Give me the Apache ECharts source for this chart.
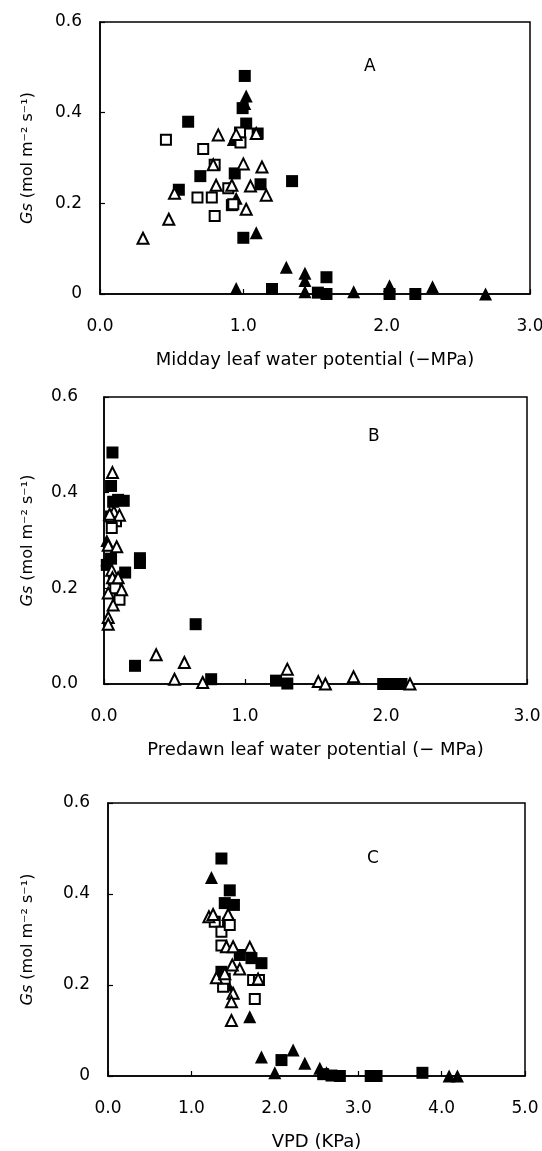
<!DOCTYPE html>
<html>
<head>
<meta charset="utf-8">
<script src="https://cdn.jsdelivr.net/npm/echarts@6/dist/echarts.min.js"></script>
<style>
html,body{margin:0;padding:0;background:#fff;}
#chart{width:542px;height:1151px;}
</style>
</head>
<body>
<div id="chart"></div>
<script>
// ---------- Data ----------
// Panel A: Midday leaf water potential (-MPa) vs Gs
var aFilledSquare = [[1.01,0.481],[0.995,0.41],[0.615,0.38],[1.02,0.376],[1.10,0.354],[0.70,0.26],[0.94,0.266],[0.55,0.23],[1.12,0.242],[1.34,0.249],[0.92,0.196],[1.00,0.124],[1.20,0.011],[1.58,0.037],[1.52,0.003],[1.58,0.0],[2.02,0.0],[2.20,0.0]];
var aOpenSquare = [[0.46,0.34],[0.72,0.32],[0.80,0.285],[0.68,0.213],[0.78,0.213],[0.80,0.172],[0.895,0.233],[0.977,0.356],[0.98,0.334],[0.93,0.198]];
var aFilledTriangle = [[1.02,0.437],[1.01,0.42],[0.93,0.341],[0.95,0.211],[1.09,0.135],[0.95,0.012],[1.30,0.059],[1.43,0.046],[1.43,0.03],[1.43,0.005],[1.77,0.005],[2.02,0.018],[2.32,0.016],[2.69,0.0]];
var aOpenTriangle = [[0.30,0.123],[0.48,0.165],[0.52,0.222],[0.825,0.351],[0.79,0.285],[0.81,0.24],[0.92,0.24],[0.95,0.352],[1.00,0.287],[1.05,0.238],[1.02,0.187],[1.13,0.28],[1.16,0.218],[1.09,0.354]];

// Panel B: Predawn leaf water potential (- MPa) vs Gs
var bFilledSquare = [[0.06,0.484],[0.05,0.414],[0.065,0.381],[0.14,0.383],[0.10,0.385],[0.255,0.263],[0.255,0.253],[0.15,0.233],[0.05,0.262],[0.02,0.249],[0.65,0.125],[0.22,0.038],[0.76,0.01],[1.22,0.007],[1.30,0.001],[1.98,0.0],[2.05,0.0],[2.11,0.0]];
var bOpenSquare = [[0.085,0.34],[0.055,0.326],[0.05,0.35],[0.07,0.218],[0.11,0.176],[0.08,0.2]];
var bFilledTriangle = [[0.02,0.3],[0.02,0.26]];
var bOpenTriangle = [[0.06,0.442],[0.07,0.36],[0.11,0.353],[0.04,0.355],[0.03,0.29],[0.09,0.287],[0.055,0.238],[0.06,0.222],[0.10,0.222],[0.125,0.197],[0.03,0.19],[0.065,0.165],[0.03,0.139],[0.03,0.125],[0.37,0.061],[0.57,0.045],[0.50,0.01],[0.70,0.003],[1.30,0.031],[1.52,0.005],[1.57,0.0],[1.77,0.015],[2.17,0.0]];

// Panel C: VPD (KPa) vs Gs
var cFilledSquare = [[1.36,0.478],[1.46,0.408],[1.40,0.38],[1.51,0.376],[1.44,0.335],[1.58,0.266],[1.72,0.259],[1.84,0.248],[1.36,0.229],[2.08,0.035],[2.58,0.004],[2.68,0.001],[2.78,0.0],[3.15,0.0],[3.22,0.0],[3.77,0.007]];
var cOpenSquare = [[1.28,0.339],[1.36,0.317],[1.36,0.287],[1.46,0.332],[1.74,0.211],[1.81,0.211],[1.76,0.169],[1.38,0.196],[1.40,0.214]];
var cFilledTriangle = [[1.24,0.436],[1.44,0.2],[1.70,0.13],[1.84,0.042],[2.00,0.007],[2.22,0.057],[2.36,0.028],[2.54,0.017],[2.62,0.007],[4.09,0.0],[4.19,0.0]];
var cOpenTriangle = [[1.21,0.35],[1.26,0.355],[1.44,0.355],[1.42,0.284],[1.50,0.284],[1.70,0.283],[1.58,0.235],[1.49,0.244],[1.30,0.216],[1.50,0.182],[1.48,0.163],[1.48,0.122],[1.80,0.213],[1.40,0.225]];

// Tick labels
var yTickValues = [0, 0.2, 0.4, 0.6];
var yLabelsA = ['0', '0.2', '0.4', '0.6'];
var yLabelsB = ['0.0', '0.2', '0.4', '0.6'];
var yLabelsC = ['0', '0.2', '0.4', '0.6'];
var xLabelsAB = ['0.0', '1.0', '2.0', '3.0'];
var xLabelsC = ['0.0', '1.0', '2.0', '3.0', '4.0', '5.0'];

var xTitleA = 'Midday leaf water potential (\u2212MPa)';
var xTitleB = 'Predawn leaf water potential (\u2212 MPa)';
var xTitleC = 'VPD (KPa)';
var yTitle = '{i|Gs} (mol m\u207B\u00B2 s\u207B\u00B9)';
var panelLetters = ['A', 'B', 'C'];

// ---------- Chart ----------
var FONT = 'DejaVu Sans';
var chart = echarts.init(document.getElementById('chart'), null, {renderer: 'canvas'});

function lookup(labels, step) {
  return function (v) {
    var i = Math.round(v / step);
    return labels[i] !== undefined ? labels[i] : '';
  };
}

function xAxis(idx, max, labels, title) {
  return {
    type: 'value', gridIndex: idx, min: 0, max: max, interval: 1,
    name: title, nameLocation: 'middle', nameGap: 57,
    nameTextStyle: {fontFamily: FONT, fontSize: 18, color: '#000'},
    axisLine: {show: true, lineStyle: {color: '#000', width: 1.5}},
    axisTick: {show: true, inside: true, length: 5, lineStyle: {color: '#000', width: 1.2}},
    axisLabel: {formatter: lookup(labels, 1), fontFamily: FONT, fontSize: 17, color: '#000', margin: 24},
    splitLine: {show: false}
  };
}

function yAxis(idx, labels, margin, gap) {
  return {
    type: 'value', gridIndex: idx, min: 0, max: 0.6, interval: 0.2,
    name: yTitle, nameLocation: 'middle', nameGap: gap, nameRotate: 90,
    nameTextStyle: {fontFamily: FONT, fontSize: 16, color: '#000',
      rich: {i: {fontFamily: FONT, fontSize: 16, fontStyle: 'italic', color: '#000'}}},
    axisLine: {show: true, lineStyle: {color: '#000', width: 1.5}},
    axisTick: {show: true, inside: true, length: 5, lineStyle: {color: '#000', width: 1.2}},
    axisLabel: {formatter: lookup(labels, 0.2), fontFamily: FONT, fontSize: 17, color: '#000', margin: margin},
    splitLine: {show: false}
  };
}

function grid(left, top, width, height) {
  return {left: left, top: top, width: width, height: height, show: true,
    borderColor: '#000', borderWidth: 1.5, backgroundColor: 'transparent',
    containLabel: false, outerBoundsMode: 'none'};
}

var styles = {
  filledSquare: {symbol: 'rect', symbolSize: 12, itemStyle: {color: '#000', borderWidth: 0, opacity: 1}},
  openSquare: {symbol: 'rect', symbolSize: 10, itemStyle: {color: '#fff', borderColor: '#000', borderWidth: 2, opacity: 1}},
  filledTriangle: {symbol: 'triangle', symbolSize: 13, itemStyle: {color: '#000', borderWidth: 0, opacity: 1}},
  openTriangle: {symbol: 'triangle', symbolSize: 11, itemStyle: {color: '#fff', borderColor: '#000', borderWidth: 2, opacity: 1}}
};

function series(idx, kind, data) {
  var s = styles[kind];
  return {
    type: 'scatter', name: kind, xAxisIndex: idx, yAxisIndex: idx, data: data,
    symbol: s.symbol, symbolSize: s.symbolSize, itemStyle: s.itemStyle,
    emphasis: {disabled: true}, silent: true
  };
}

var panels = [
  {fs: aFilledSquare, os: aOpenSquare, ft: aFilledTriangle, ot: aOpenTriangle},
  {fs: bFilledSquare, os: bOpenSquare, ft: bFilledTriangle, ot: bOpenTriangle},
  {fs: cFilledSquare, os: cOpenSquare, ft: cFilledTriangle, ot: cOpenTriangle}
];
var allSeries = [];
panels.forEach(function (p, i) {
  allSeries.push(series(i, 'filledSquare', p.fs));
  allSeries.push(series(i, 'filledTriangle', p.ft));
  allSeries.push(series(i, 'openSquare', p.os));
  allSeries.push(series(i, 'openTriangle', p.ot));
});

var option = {
  animation: false,
  backgroundColor: '#fff',
  grid: [
    grid(100, 22, 430, 272),
    grid(104, 397, 423, 287),
    grid(108, 803, 417, 273)
  ],
  xAxis: [
    xAxis(0, 3, xLabelsAB, xTitleA),
    xAxis(1, 3, xLabelsAB, xTitleB),
    xAxis(2, 5, xLabelsC, xTitleC)
  ],
  yAxis: [
    yAxis(0, yLabelsA, 18, 64),
    yAxis(1, yLabelsB, 26, 68),
    yAxis(2, yLabelsC, 18, 72)
  ],
  graphic: [
    {type: 'text', left: 364, top: 58, style: {text: panelLetters[0], font: '17px "DejaVu Sans"', fill: '#000'}},
    {type: 'text', left: 368, top: 428, style: {text: panelLetters[1], font: '17px "DejaVu Sans"', fill: '#000'}},
    {type: 'text', left: 367, top: 850, style: {text: panelLetters[2], font: '17px "DejaVu Sans"', fill: '#000'}}
  ],
  series: allSeries
};
chart.setOption(option);
</script>
</body>
</html>
